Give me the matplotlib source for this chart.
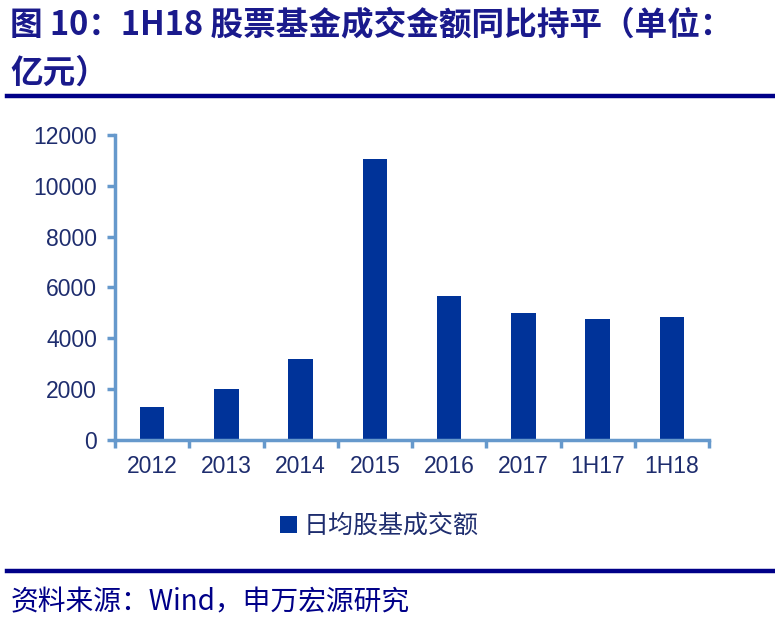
import numpy as np
import matplotlib.pyplot as plt

plt.rcParams['font.family'] = ['Noto Sans CJK SC', 'DejaVu Sans']

categories = ['2012', '2013', '2014', '2015', '2016', '2017', '1H17', '1H18']
turnover = [1310, 2010, 3200, 11070, 5670, 5000, 4750, 4830]
yticks = [0, 2000, 4000, 6000, 8000, 10000, 12000]

title1 = '图 10：1H18 股票基金成交金额同比持平（单位：'
title2 = '亿元）'
legend_label = '日均股基成交额'
source = '资料来源：Wind，申万宏源研究'

bar_color = '#003399'
axis_color = '#6699cc'
text_color = '#1e2d6e'
title_color = '#1a1a8c'
rule_color = '#000088'

fig = plt.figure(figsize=(7.75, 6.22), dpi=100)
ax = fig.add_axes([0.1484, 0.2926, 0.7665, 0.4904])

x = np.arange(len(categories))
ax.bar(x, turnover, width=0.33, color=bar_color, label=legend_label)

ax.set_xlim(-0.5, len(categories) - 0.5)
ax.set_ylim(0, 12000)
ax.set_yticks(yticks)
ax.set_yticklabels([str(v) for v in yticks], family=['Liberation Sans'],
                   fontsize=16.5, color=text_color)
ax.set_xticks(np.arange(len(categories) + 1) - 0.5)
ax.set_xticklabels([])
ax.set_xticks(x, minor=True)
ax.set_xticklabels(categories, minor=True, family=['Liberation Sans'],
                   fontsize=16.5, color=text_color)
ax.tick_params(axis='x', which='minor', length=0, pad=11)
ax.tick_params(axis='x', which='major', length=6, width=2.5, color=axis_color)
ax.tick_params(axis='y', length=6, width=2.5, color=axis_color, pad=7)

for s in ['top', 'right']:
    ax.spines[s].set_visible(False)
for s in ['left', 'bottom']:
    ax.spines[s].set_color(axis_color)
    ax.spines[s].set_linewidth(2.5)

leg = fig.legend(loc='center', bbox_to_anchor=(0.49, 1 - 526 / 622),
                 frameon=False, fontsize=18, handlelength=0.65,
                 handleheight=0.65, handletextpad=0.3)
for t in leg.get_texts():
    t.set_color(text_color)

fig.text(10 / 775, 1 - 26 / 622, title1, fontsize=23.5, fontweight='bold',
         color=title_color, va='center', ha='left')
fig.text(10 / 775, 1 - 73 / 622, title2, fontsize=23.5, fontweight='bold',
         color=title_color, va='center', ha='left')
fig.add_artist(plt.Line2D([7 / 775, 774 / 775], [1 - 96 / 622] * 2,
                          color=rule_color, linewidth=3.2))
fig.add_artist(plt.Line2D([7 / 775, 774 / 775], [1 - 571 / 622] * 2,
                          color=rule_color, linewidth=3.2))
fig.text(11 / 775, 1 - 602 / 622, source, fontsize=20, color=rule_color,
         va='center', ha='left')

fig.savefig('out.png', dpi=100)
